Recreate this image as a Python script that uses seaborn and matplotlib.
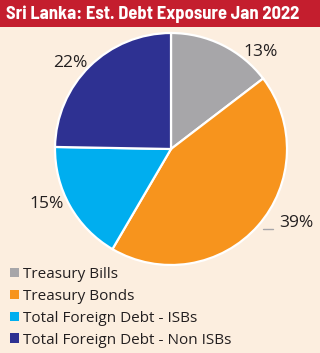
import matplotlib
matplotlib.use("Agg")
import matplotlib.pyplot as plt
from matplotlib.patches import Patch
from matplotlib import font_manager
import seaborn as sns

categories = ["Treasury Bills", "Treasury Bonds", "Total Foreign Debt - ISBs", "Total Foreign Debt - Non ISBs"]
values = [13, 39, 15, 22]
pct_labels = ["13%", "39%", "15%", "22%"]
colors = ["#A7A6A9", "#F7941D", "#00AEEF", "#2E3192"]
title = "Sri Lanka: Est. Debt Exposure Jan 2022"

sns.set_theme(style="white")
names = {f.name for f in font_manager.fontManager.ttflist}
body_font = "Open Sans" if "Open Sans" in names else "DejaVu Sans"
head_font = next((n for n in ["Barlow Semi Condensed", "Asap Condensed", "Archivo Narrow"] if n in names), "DejaVu Sans")
plt.rcParams['font.family'] = [body_font, 'DejaVu Sans']

bg = "#FCEEDF"
W, H = 320, 353
fig = plt.figure(figsize=(W / 100, H / 100), dpi=100, facecolor=bg)

hdr = fig.add_axes([0, 1 - 27 / H, 1, 27 / H])
hdr.set_facecolor("#C41E2E")
hdr.set_xticks([]); hdr.set_yticks([])
for s in hdr.spines.values():
    s.set_visible(False)
hdr.text(0.018, 0.47, title, color="white", fontsize=13.3, fontweight="bold",
         family=[head_font, 'DejaVu Sans'], va="center", ha="left", transform=hdr.transAxes)

cx, cy, r = 171, 149, 116
ax = fig.add_axes([(cx - r) / W, (H - cy - r) / H, 2 * r / W, 2 * r / H])
ax.set_facecolor(bg)
ax.pie(values, colors=colors, startangle=90, counterclock=False, radius=1,
       wedgeprops=dict(edgecolor="white", linewidth=1.6))
ax.set_xlim(-1, 1); ax.set_ylim(-1, 1)
ax.set_aspect("equal")
ax.axis("off")

label_pos = [(0.77, 0.84), (1.08, -0.64), (-1.07, -0.47), (-0.87, 0.74)]
for (x, y), t in zip(label_pos, pct_labels):
    ax.text(x, y, t, fontsize=12.5, color="#231F20", ha="center", va="center", clip_on=False)
ax.plot([0.79, 0.88], [-0.69, -0.69], color="#A7A6A9", lw=1, clip_on=False)

handles = [Patch(facecolor=c, edgecolor="none") for c in colors]
fig.legend(handles, categories, loc="upper left", bbox_to_anchor=(0.03, 1 - 267 / H),
           frameon=False, fontsize=11, handlelength=0.6, handleheight=0.6,
           handletextpad=0.3, labelspacing=0.45, borderaxespad=0, borderpad=0,
           labelcolor="#231F20")

fig.savefig("out.png", dpi=100, facecolor=bg)
